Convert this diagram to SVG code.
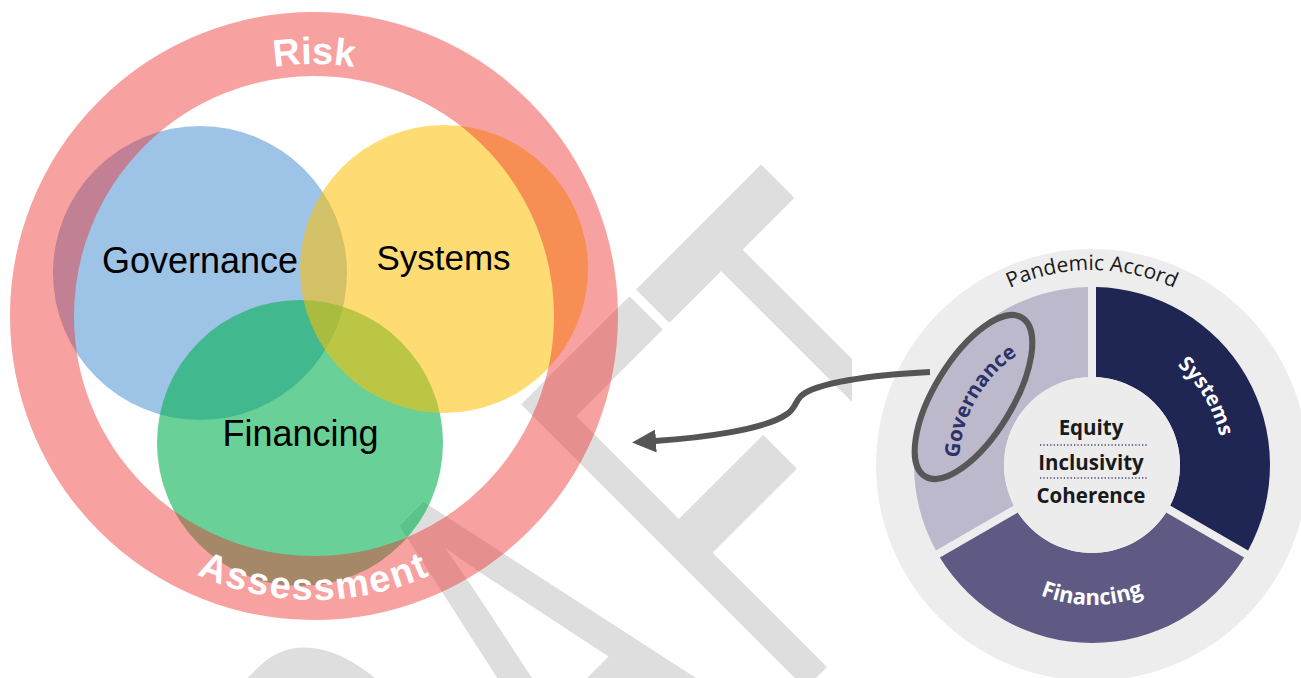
<svg xmlns="http://www.w3.org/2000/svg" width="1301" height="678" viewBox="0 0 1301 678">
<style>
.venn-label{font-family:"Liberation Sans",Arial,sans-serif;font-size:36px;fill:#000;text-anchor:middle}
.ring-label{font-family:"Liberation Sans",Arial,sans-serif;font-size:38px;font-weight:bold;fill:#fff;text-anchor:middle}
.pie-label{font-family:"Open Sans","Liberation Sans",sans-serif;font-size:20.5px;font-weight:bold;text-anchor:middle}
.center-label{font-family:"Open Sans","Liberation Sans",sans-serif;font-size:20.5px;font-weight:bold;fill:#1a1a1a;text-anchor:middle}
.dots{stroke:#45457a;stroke-width:1.5;stroke-dasharray:1.3 2.1;fill:none}
</style>
<defs>
<clipPath id="wmclip"><rect x="0" y="0" width="852" height="678"/></clipPath>
<path id="riskArc" d="M62,316 A252,252 0 0 1 566,316"/>
<path id="assessArc" d="M30,316 A284,284 0 0 0 598,316"/>
<path id="accordArc" d="M897,465 A195,195 0 0 1 1287,465"/>
<path id="sysArc" d="M1024.53,352.71 A131,131 0 0 1 1159.47,577.29"/>
<path id="govArc" d="M1026.51,580.76 A133,133 0 0 1 1157.49,349.24"/>
<path id="finArc" d="M952,465 A140,140 0 0 0 1232,465"/>
<marker id="arrowHead" viewBox="0 0 24 23" refX="1" refY="11.5" markerWidth="24" markerHeight="23" orient="auto" markerUnits="userSpaceOnUse"><path d="M0,0 L24,11.5 L0,23 Z" fill="#555"/></marker>
</defs>
<rect width="1301" height="678" fill="#fff"/>
<g id="watermark" clip-path="url(#wmclip)">
<text transform="rotate(-45) scale(0.5345,1)" x="-1214 -776.4 -330 108.5 446.8" y="1055" font-family="Liberation Sans, Arial, sans-serif" font-size="580" fill="#dedede" stroke="#dedede" stroke-width="3" stroke-linejoin="round">DRAFT</text>
</g>
<g id="venn">
<g id="governance"><circle cx="200" cy="273" r="147" fill="#5B9BD5" fill-opacity="0.6"/></g>
<g id="financing"><circle cx="300" cy="443" r="143" fill="#00B050" fill-opacity="0.59"/></g>
<g id="systems"><circle cx="444" cy="269" r="144" fill="#FFC000" fill-opacity="0.55"/></g>
<g id="risk-assessment"><circle cx="314" cy="316" r="272" fill="none" stroke="#ED2F2F" stroke-opacity="0.45" stroke-width="64"/></g>
<text class="venn-label" x="200" y="273">Governance</text>
<text class="venn-label" x="443.5" y="270" style="font-size:35px">Systems</text>
<text class="venn-label" x="300.5" y="446">Financing</text>
<text class="ring-label"><textPath href="#riskArc" startOffset="50%">Risk</textPath></text>
<text class="ring-label" letter-spacing="1.8"><textPath href="#assessArc" startOffset="50%">Assessment</textPath></text>
</g>
<g id="pandemic-accord">
<circle cx="1092" cy="465" r="216" fill="#ededed"/>
<text font-family="Open Sans, Liberation Sans, sans-serif" font-size="21" fill="#1a1a1a" text-anchor="middle"><textPath href="#accordArc" startOffset="50%">Pandemic Accord</textPath></text>
<g id="pie-systems"><path d="M1096,287.05 A178,178 0 0 1 1248.11,550.51 L1170.13,505.49 A88,88 0 0 0 1096,377.09 Z" fill="#1f2654"/>
<text class="pie-label" fill="#fff"><textPath href="#sysArc" startOffset="50%">Systems</textPath></text></g>
<g id="pie-financing"><path d="M1244.11,557.44 A178,178 0 0 1 939.89,557.44 L1017.87,512.42 A88,88 0 0 0 1166.13,512.42 Z" fill="#5f5a84"/>
<text class="pie-label" fill="#fff" style="font-size:22px"><textPath href="#finArc" startOffset="50%">Financing</textPath></text></g>
<g id="pie-governance"><path d="M935.89,550.51 A178,178 0 0 1 1088,287.05 L1088,377.09 A88,88 0 0 0 1013.87,505.49 Z" fill="#bcb9cd"/>
<text class="pie-label" fill="#2e3168"><textPath href="#govArc" startOffset="50%">Governance</textPath></text></g>
<g id="pie-center">
<circle cx="1092" cy="465" r="88" fill="#ececec"/>
<text class="center-label" x="1091" y="435">Equity</text>
<line class="dots" x1="1040" y1="445" x2="1147" y2="445"/>
<text class="center-label" x="1091" y="470">Inclusivity</text>
<line class="dots" x1="1040" y1="478" x2="1147" y2="478"/>
<text class="center-label" x="1091" y="503">Coherence</text>
</g>
<g id="highlight"><ellipse cx="0" cy="0" rx="39" ry="93" transform="translate(973.5,397) rotate(31.4)" fill="none" stroke="#575757" stroke-width="6"/></g>
</g>
<g id="connectors">
<path d="M930,372 C870,375 815,383 801,396 C795,402 795,409 787,414 C765,430 700,438 655,441" fill="none" stroke="#555" stroke-width="6" marker-end="url(#arrowHead)"/>
</g>
</svg>
